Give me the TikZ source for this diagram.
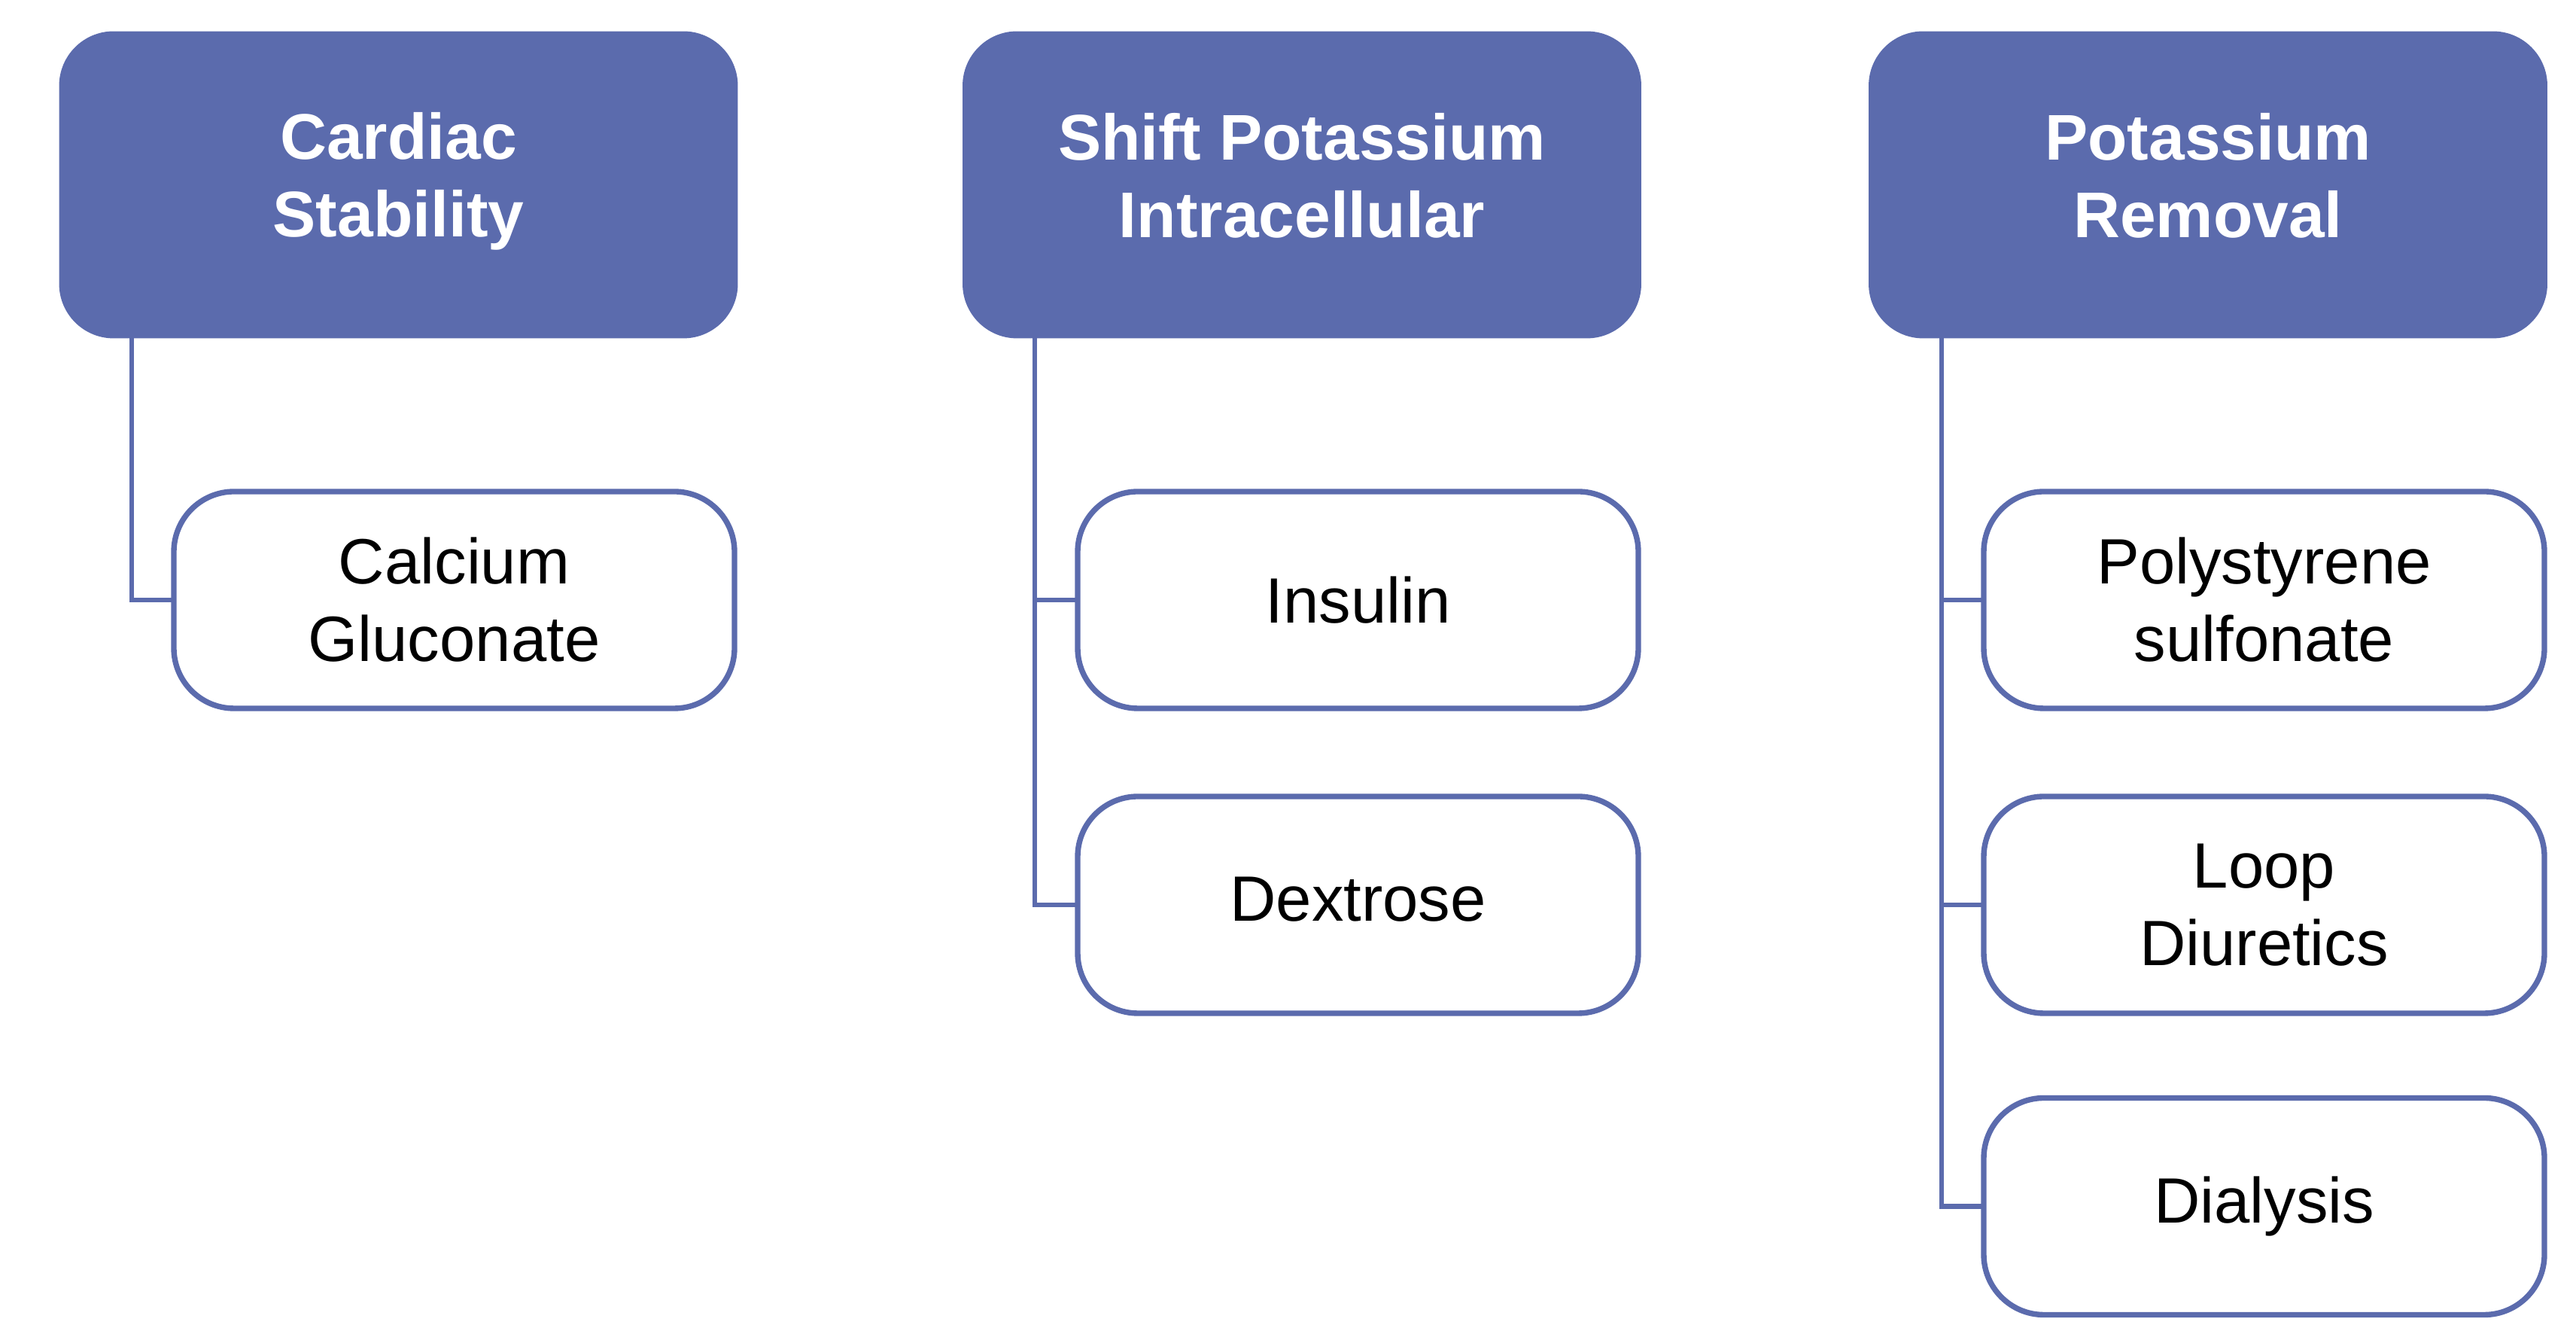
\documentclass[tikz,border=0pt]{standalone}
\usepackage{fontspec}
\setmainfont{Liberation Sans}
\definecolor{hblue}{RGB}{91,107,173}
\begin{document}
\begin{tikzpicture}[
  hdrbox/.style={draw=hblue, fill=hblue, line width=1.4pt, rounded corners=0.7cm,
    minimum width=8.97cm, minimum height=4.03cm, inner sep=0pt},
  htext/.style={text=white, font=\fontsize{24.4pt}{29.3pt}\selectfont\bfseries, align=center, inner sep=0pt},
  kid/.style={draw=hblue, fill=white, line width=2.1pt, rounded corners=0.8cm,
    minimum width=7.45cm, minimum height=2.88cm, inner sep=0pt,
    font=\fontsize{24.2pt}{29.3pt}\selectfont, align=center},
  conn/.style={draw=hblue, line width=1.9pt}
]
\useasboundingbox (0,0) rectangle (34.23,17.76);
\fill[white] (0,0) rectangle (34.23,17.76);

% headers
\node[hdrbox] (h1) at (5.295,15.305) {};
\node[hdrbox] (h2) at (17.30,15.305) {};
\node[hdrbox] (h3) at (29.34,15.305) {};
\node[htext] (h1t) at ([yshift=0.05cm]h1.center) {Cardiac\\Stability};
\node[htext] (h2t) at ([yshift=0.12cm]h2.center) {Shift Potassium\\Intracellular};
\node[htext] (h3t) at ([yshift=0.12cm]h3.center) {Potassium\\Removal};

% trunk start points
\coordinate (c1) at (1.75,13.30);
\coordinate (c2) at (13.75,13.30);
\coordinate (c3) at (25.80,13.30);

% children positions
\path (6.035,9.79) coordinate (p11);
\path (18.045,9.79) coordinate (p21);
\path (18.045,5.74) coordinate (p22);
\path (30.085,9.79) coordinate (p31);
\path (30.085,5.74) coordinate (p32);
\path (30.085,1.735) coordinate (p33);

% connectors (drawn under boxes)
\draw[conn] (c1) |- (p11 -| 2.3,0);
\draw[conn] (c2) |- (p22 -| 14.3,0);
\draw[conn] (c2 |- p21) -- (p21 -| 14.3,0);
\draw[conn] (c3) |- (p33 -| 26.35,0);
\draw[conn] (c3 |- p31) -- (p31 -| 26.35,0);
\draw[conn] (c3 |- p32) -- (p32 -| 26.35,0);

% children
\node[kid] (k11) at (p11) {Calcium\\Gluconate};
\node[kid] (k21) at (p21) {Insulin};
\node[kid] (k22) at (p22) {\raisebox{0.16cm}{Dextrose}};
\node[kid] (k31) at (p31) {Polystyrene\\sulfonate};
\node[kid] (k32) at (p32) {Loop\\Diuretics};
\node[kid] (k33) at (p33) {Dialysis};
\end{tikzpicture}
\end{document}
